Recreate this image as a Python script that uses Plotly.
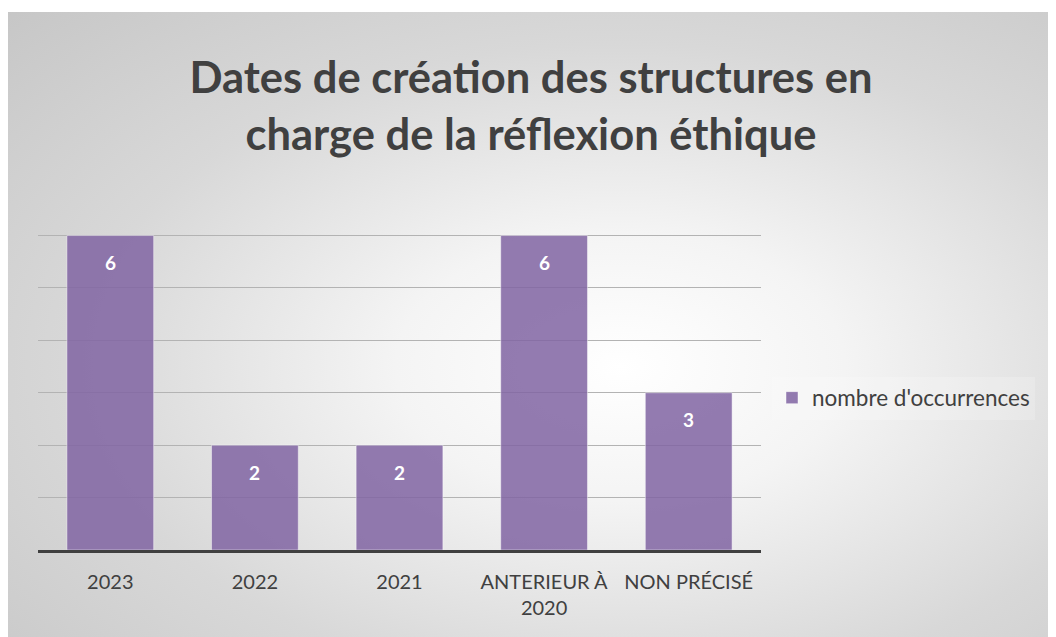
import plotly.graph_objects as go

categories = ["2023", "2022", "2021", "ANTERIEUR À<br>2020", "NON PRÉCISÉ"]
values = [6, 2, 2, 6, 3]
series_name = "nombre d'occurrences"
title_text = "Dates de création des structures en<br>charge de la réflexion éthique"
y_ticks = [0, 1, 2, 3, 4, 5, 6, 7]

W, H = 1056, 637
FONT = "Lato"
TXT = "#404040"

fig = go.Figure()

# background panel with radial gradient (on first subplot, drawn under the chart)
cx, cy = 0.58, 0.44
hw, hh = 0.85, 0.85
fig.add_trace(go.Scatter(
    x=[cx - hw, cx + hw, cx + hw, cx - hw, cx - hw],
    y=[cy - hh, cy - hh, cy + hh, cy + hh, cy - hh],
    mode="lines", fill="toself", line=dict(width=0),
    fillgradient=dict(type="radial",
                      colorscale=[[0, "#ffffff"], [0.25, "#f4f4f4"], [0.6, "#d8d8d8"], [1, "#c4c4c4"]]),
    hoverinfo="skip", showlegend=False, xaxis="x", yaxis="y",
))

fig.add_trace(go.Bar(
    x=categories, y=values, name=series_name,
    marker=dict(color="rgba(128,100,162,0.85)", line=dict(color="rgba(255,255,255,0.45)", width=1)),
    hoverinfo="x+y",
    xaxis="x2", yaxis="y2",
))

annotations = [
    dict(x=i, y=v, xref="x2", yref="y2", text=str(v), showarrow=False,
         yanchor="middle", yshift=-27,
         font=dict(family=FONT, size=19, color="white", weight="bold"))
    for i, v in enumerate(values)
]

y0_px, y7_px = 542, 175
fig.update_layout(
    template="none",
    width=W, height=H,
    margin=dict(l=0, r=0, t=0, b=0, pad=0),
    paper_bgcolor="white", plot_bgcolor="rgba(0,0,0,0)",
    font=dict(family=FONT, color=TXT),
    title=dict(text=title_text, x=523 / W, xanchor="center", y=1 - 85 / H, yanchor="middle",
               font=dict(family=FONT, size=43.5, color=TXT, weight="bold")),
    xaxis=dict(domain=[0, 1], range=[0, 1], visible=False, fixedrange=True, automargin=False),
    yaxis=dict(domain=[0, 1 - 4 / H], range=[0, 1], visible=False, fixedrange=True, automargin=False),
    xaxis2=dict(type="category", domain=[30 / W, 753 / W], anchor="y2", showgrid=False,
                showline=True, linecolor="#404040", linewidth=3, automargin=False,
                ticks="", ticklabelstandoff=12, zeroline=False,
                tickfont=dict(family=FONT, size=20, color=TXT)),
    yaxis2=dict(domain=[(H - y0_px) / H, (H - y7_px) / H], anchor="x2", range=[0, 7.003],
                tickvals=y_ticks, showticklabels=False, showgrid=True, automargin=False,
                gridcolor="#b3b3b3", gridwidth=1, zeroline=False, ticks=""),
    bargap=0.4,
    annotations=annotations,
    showlegend=True,
    legend=dict(x=764 / W, xanchor="left", y=1 - 390 / H, yanchor="middle",
                bgcolor="rgba(255,255,255,0.2)", borderwidth=0,
                font=dict(family=FONT, size=22.5, color=TXT)),
)

fig.write_html("out.html")
